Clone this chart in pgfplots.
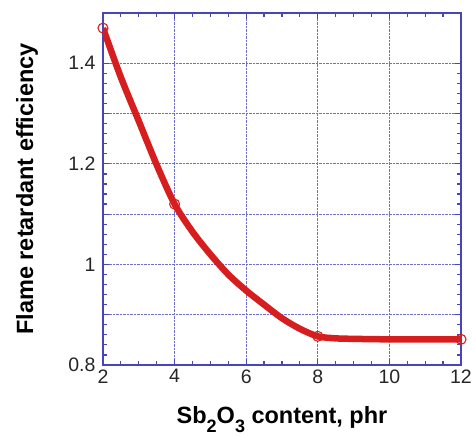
\documentclass[border=0pt]{standalone}
\usepackage{pgfplots}
\pgfplotsset{compat=1.18}
\usepackage{fontspec}
\setmainfont{Liberation Sans}
\definecolor{axblue}{RGB}{70,70,185}
\definecolor{gridblue}{RGB}{110,110,205}
\definecolor{curvered}{RGB}{215,30,30}
\begin{document}
\begin{tikzpicture}
\begin{axis}[
  scale only axis,
  width=358pt, height=352pt,
  xmin=2, xmax=12, ymin=0.8, ymax=1.5,
  xtick={2,4,6,8,10,12},
  ytick={0.8,1,1.2,1.4},
  extra y ticks={0.9,1.1,1.3},
  extra y tick labels={},
  extra y tick style={grid=major},
  minor x tick num=3,
  minor y tick num=9,
  grid=major,
  major grid style={gridblue, densely dotted, line width=1pt},
  axis line style={axblue, line width=1.5pt},
  every tick/.style={axblue, line width=1.2pt},
  tick align=inside,
  major tick length=6pt,
  minor tick length=4pt,
  tick label style={font=\fontsize{19.5}{23}\selectfont, text=black!85},
  xticklabel style={yshift=-1pt},
  yticklabel style={xshift=-4pt},
  /pgf/number format/assume math mode=true,
  xlabel={Sb\raisebox{-9pt}{\fontsize{18}{18}\selectfont\bfseries 2}O\raisebox{-9pt}{\fontsize{18}{18}\selectfont\bfseries 3} content, phr},
  ylabel={Flame retardant efficiency},
  label style={font=\fontsize{23.5}{28}\selectfont\bfseries, text=black},
  xlabel style={at={(axis description cs:0.5,-0.165)}, anchor=base},
  ylabel style={at={(axis description cs:-0.1955,0.5)}, anchor=base, rotate=0},
]
\addplot[curvered, line width=6.5pt, smooth, tension=0.5] coordinates {
  (2,1.47) (2.5,1.372) (3,1.285) (3.5,1.198) (4,1.12) (4.5,1.065) (5,1.02)
  (5.5,0.98) (6,0.948) (6.5,0.92) (7,0.893) (7.5,0.872) (8,0.857)
  (8.5,0.853) (9,0.852) (10,0.851) (11,0.851) (12,0.851)
};
\addplot[only marks, mark=o, mark size=5pt, mark options={curvered, line width=1.1pt, fill=none}] coordinates {
  (2,1.47) (4,1.12) (8,0.857) (12,0.851)
};
\end{axis}
\pgfresetboundingbox
\path ([shift={(-103pt,-71pt)}]current axis.south west) rectangle ([shift={(369pt,365pt)}]current axis.south west);
\end{tikzpicture}
\end{document}
